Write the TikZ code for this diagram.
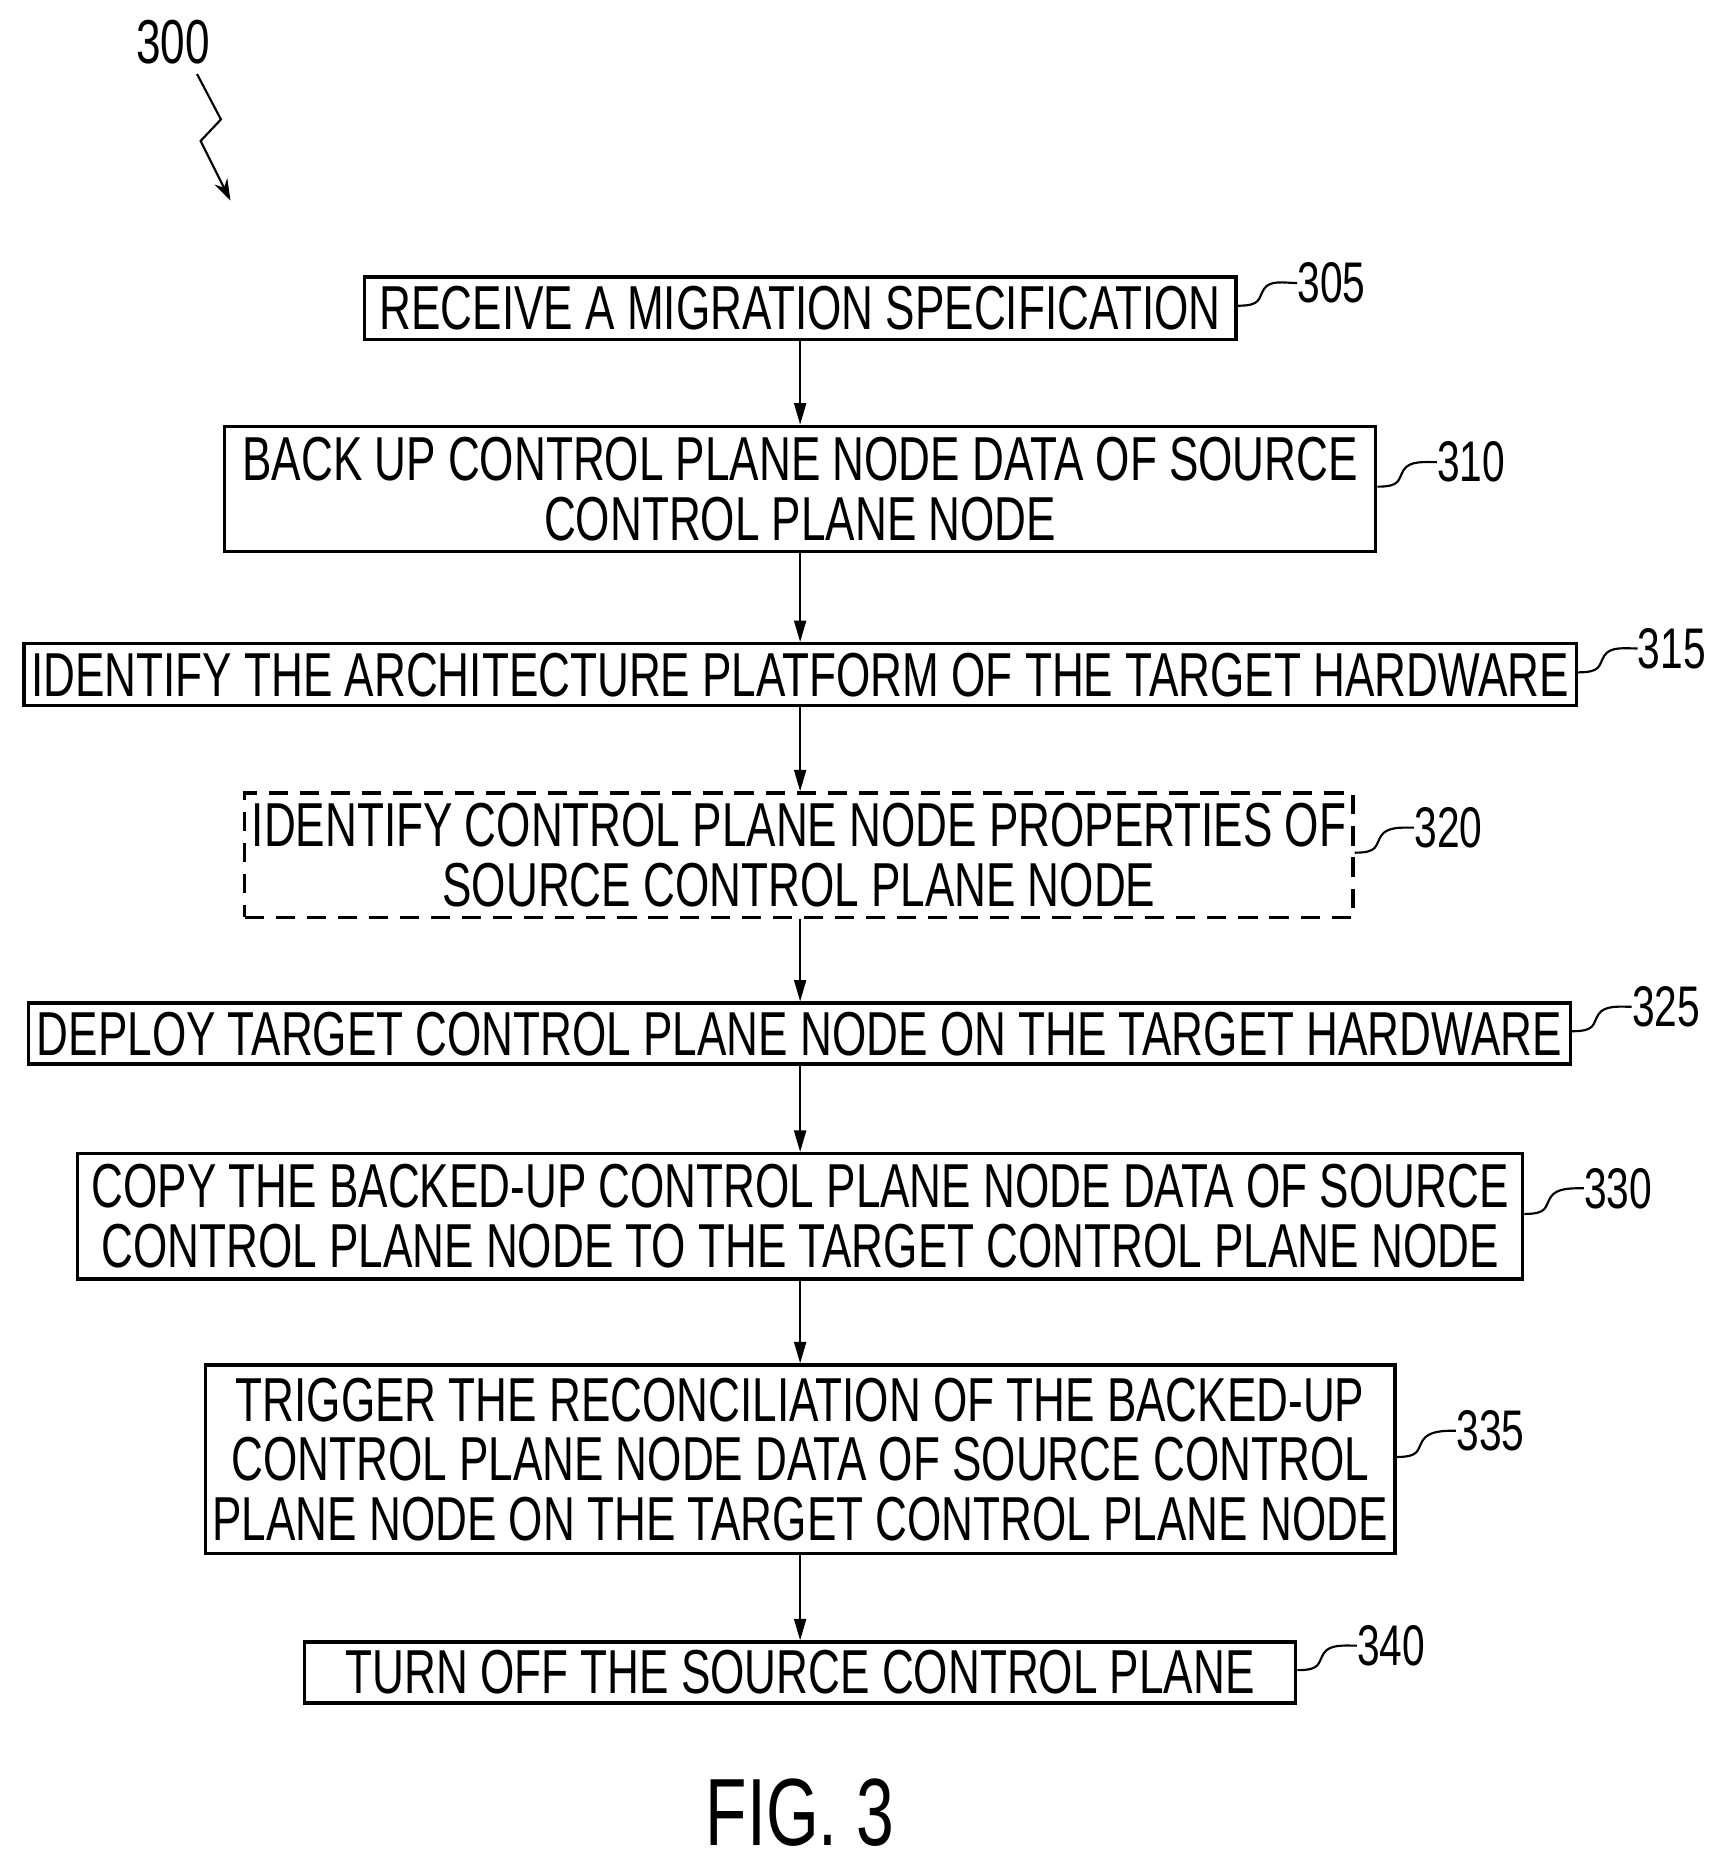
\documentclass[tikz,border=0pt]{standalone}
\usepackage{fontspec}
\setmainfont{Liberation Sans}[FakeStretch=0.71]
\usetikzlibrary{arrows.meta,decorations.pathmorphing}
\begin{document}
\begin{tikzpicture}[x=0.5pt,y=-0.5pt,
 box/.style={draw,line width=1.4pt,inner sep=0pt,align=center,font=\fontsize{26}{25}\selectfont},
 lab/.style={font=\fontsize{24}{24}\selectfont,inner sep=0pt},
 arr/.style={-{Triangle[length=9pt,width=5pt]},line width=0.9pt},
 lead/.style={line width=0.9pt}]
\useasboundingbox (0,0) rectangle (1440,1560);
\def\B#1#2#3#4#5#6{\node[box,minimum width={(#4-#2)*0.5pt},minimum height={(#5-#3)*0.5pt}] (#1) at ({(#2+#4)/2},{(#3+#5)/2}) {#6};}
\B{a}{305}{232}{1035}{284}{RECEIVE A MIGRATION SPECIFICATION}
\B{b}{188}{357}{1152}{462}{BACK UP CONTROL PLANE NODE DATA OF SOURCE\\CONTROL PLANE NODE}
\B{c}{20}{539}{1320}{591}{IDENTIFY THE ARCHITECTURE PLATFORM OF THE TARGET HARDWARE}
\node[box,dashed,dash pattern=on 8pt off 5pt,minimum width=464pt,minimum height=52pt] (d) at (669,716) {IDENTIFY CONTROL PLANE NODE PROPERTIES OF\\SOURCE CONTROL PLANE NODE};
\B{e}{24}{840}{1315}{891}{DEPLOY TARGET CONTROL PLANE NODE ON THE TARGET HARDWARE}
\B{f}{65}{966}{1275}{1071}{COPY THE BACKED-UP CONTROL PLANE NODE DATA OF SOURCE\\CONTROL PLANE NODE TO THE TARGET CONTROL PLANE NODE}
\B{g}{172}{1143}{1168}{1301}{TRIGGER THE RECONCILIATION OF THE BACKED-UP\\CONTROL PLANE NODE DATA OF SOURCE CONTROL\\PLANE NODE ON THE TARGET CONTROL PLANE NODE}
\B{h}{255}{1375}{1085}{1426}{TURN OFF THE SOURCE CONTROL PLANE}
\foreach \u/\v in {a/b,b/c,c/d,d/e,e/f,f/g,g/h}{\draw[arr] (670,0 |- \u.south) -- (670,0 |- \v.north);}
\foreach \n/\t/\x/\y in {a/305/1115/237,b/310/1232/387,c/315/1400/543,d/320/1213/693,e/325/1395/843,f/330/1355/995,g/335/1248/1198,h/340/1165/1378}{
 \node[lab] (L\n) at (\x,\y) {\t};
 \draw[lead] (\n.east) ++(0,-2) .. controls +(20,0) and +(-5,8) .. ++(22,-14) .. controls +(5,-8) and +(-10,0) .. (L\n.west);
}
\node[lab,font=\fontsize{26}{26}\selectfont] (n300) at (145,35) {300};
\coordinate (t300) at (193,168);
\draw[lead,-{Stealth[length=9pt,width=6pt]}] (165,62) -- (185,100) -- (168,118) -- (t300);
\node[lab,font=\fontsize{40}{40}\selectfont] (fig) at (670,1518) {FIG. 3};
\end{tikzpicture}
\end{document}
